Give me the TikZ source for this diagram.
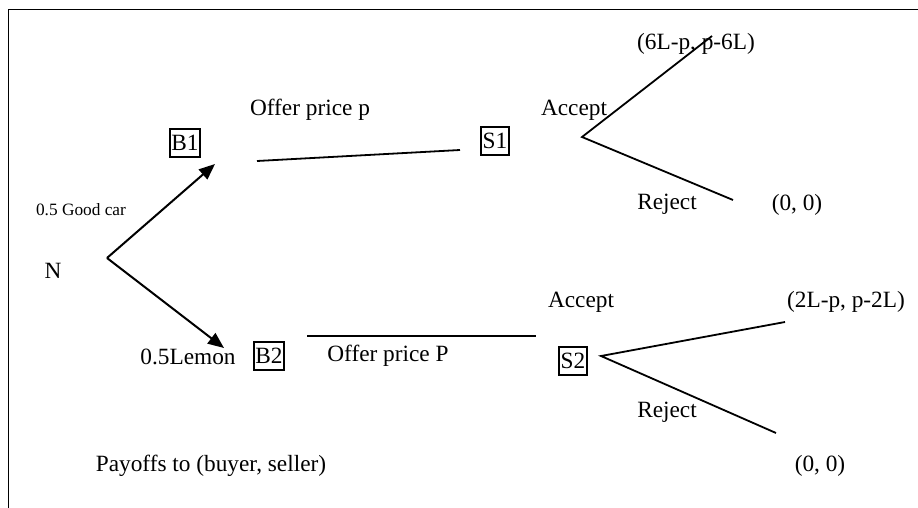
\documentclass[tikz,border=0pt]{standalone}
\usepackage{fontspec}
\setmainfont{Liberation Serif}
\usetikzlibrary{arrows.meta}
\begin{document}
\begin{tikzpicture}[x=1pt,y=-1pt,
  lbl/.style={inner sep=0pt,font=\fontsize{23.3pt}{28pt}\selectfont},
  small/.style={inner sep=0pt,font=\fontsize{17.3pt}{21pt}\selectfont},
  player/.style={draw,line width=2.2pt,inner xsep=1.5pt,inner ysep=0pt,minimum height=28pt,font=\fontsize{23.3pt}{28pt}\selectfont},
  edge/.style={line width=1.8pt},
  move/.style={line width=2pt,-{Triangle[length=16pt,width=13pt]}},
  frame/.style={line width=1.8pt}]
\useasboundingbox (0,0) rectangle (918,508);
\coordinate (fbl) at (8.5,508);
\coordinate (ftl) at (8.5,9.5);
\coordinate (ftr) at (918,9.5);
\draw[frame] (fbl) -- (ftl) -- (ftr);

% nature
\node[lbl] (N) at (53,271) {N};
\coordinate (nv) at (107,258);
\coordinate (b1a) at (215,164);
\coordinate (b2a) at (224,348);
\draw[move] (nv) -- (b1a);
\draw[move] (nv) -- (b2a);
\node[small] (good) at (81,210) {0.5 Good car};
\node[lbl] (lemon) at (188,357) {0.5Lemon};

% upper branch
\node[player] (B1) at (185,143) {B1};
\node[lbl] (offer1) at (310,110) {Offer price p};
\coordinate (o1s) at (257,161);
\coordinate (o1e) at (460,150);
\draw[edge] (o1s) -- (o1e);
\node[player] (S1) at (495,141) {S1};
\node[lbl] (acc1) at (574,110) {Accept};
\coordinate (s1v) at (582,137);
\coordinate (s1u) at (712,36);
\coordinate (s1d) at (733,200);
\draw[edge] (s1u) -- (s1v) -- (s1d);
\node[lbl] (pay1) at (696,44) {(6L-p, p-6L)};
\node[lbl] (rej1) at (667,204) {Reject};
\node[lbl] (zero1) at (797,205) {(0, 0)};

% lower branch
\node[player] (B2) at (269,356) {B2};
\coordinate (o2s) at (307,336);
\coordinate (o2e) at (536,336);
\draw[edge] (o2s) -- (o2e);
\node[lbl] (offer2) at (388,356) {Offer price P};
\node[lbl] (acc2) at (581,302) {Accept};
\node[player] (S2) at (573,361) {S2};
\coordinate (s2v) at (601,356);
\coordinate (s2u) at (785,322);
\coordinate (s2d) at (776,433);
\draw[edge] (s2u) -- (s2v) -- (s2d);
\node[lbl] (pay2) at (846,302) {(2L-p, p-2L)};
\node[lbl] (rej2) at (667,412) {Reject};
\node[lbl] (zero2) at (820,466) {(0, 0)};

\node[lbl] (payoffs) at (211,466) {Payoffs to (buyer, seller)};
\end{tikzpicture}
\end{document}
